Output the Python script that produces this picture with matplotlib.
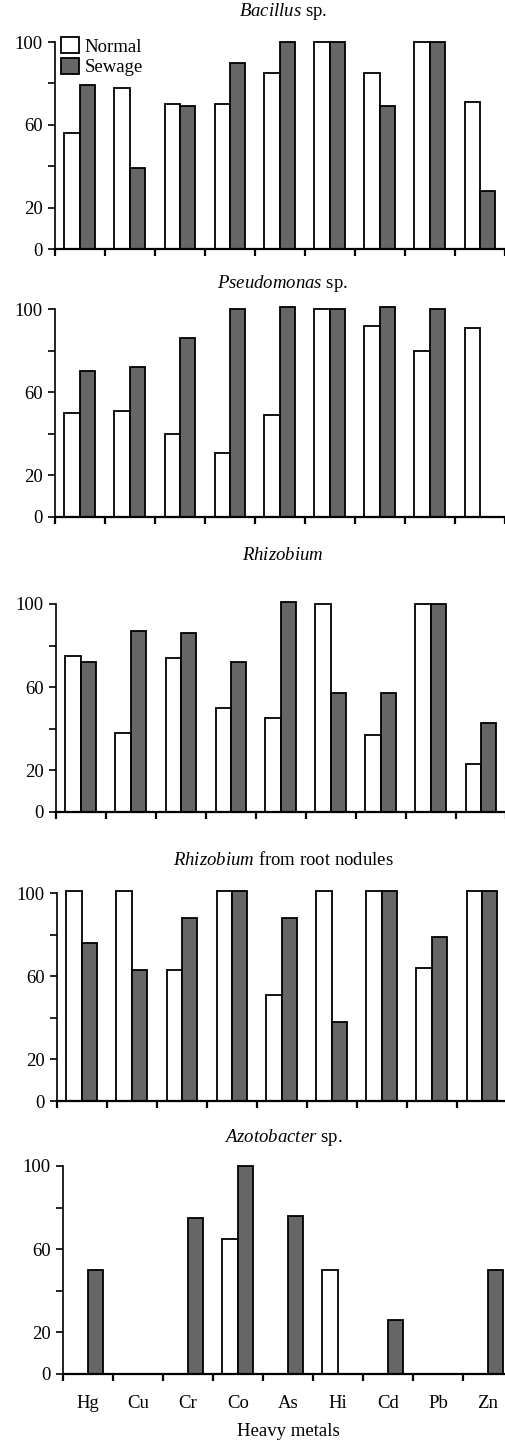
import numpy as np
import matplotlib.pyplot as plt
from matplotlib.patches import Patch

plt.rcParams['font.family'] = ['Liberation Serif', 'DejaVu Serif']
plt.rcParams['mathtext.fontset'] = 'custom'
plt.rcParams['mathtext.it'] = 'Liberation Serif:italic'
plt.rcParams['mathtext.rm'] = 'Liberation Serif'

# data (% tolerance)
metals = ['Hg', 'Cu', 'Cr', 'Co', 'As', 'Hi', 'Cd', 'Pb', 'Zn']

bacillus_normal = [56, 78, 70, 70, 85, 100, 85, 100, 71]
bacillus_sewage = [79, 39, 69, 90, 100, 100, 69, 100, 28]

pseudo_normal = [50, 51, 40, 31, 49, 100, 92, 80, 91]
pseudo_sewage = [70, 72, 86, 100, 101, 100, 101, 100, 0]

rhizo_normal = [75, 38, 74, 50, 45, 100, 37, 100, 23]
rhizo_sewage = [72, 87, 86, 72, 101, 57, 57, 100, 43]

nodule_normal = [101, 101, 63, 101, 51, 101, 101, 64, 101]
nodule_sewage = [76, 63, 88, 101, 88, 38, 101, 79, 101]

azoto_normal = [0, 0, 0, 65, 0, 50, 0, 0, 0]
azoto_sewage = [50, 0, 75, 100, 76, 0, 26, 0, 50]

W, H = 506, 1443
fig = plt.figure(figsize=(W / 100, H / 100), dpi=100)
fs = 13.5

# (title, normal, sewage, x0, y of 100, y of 0, title y) in pixels
panels = [
    (r'$\it{Bacillus}$ sp.', bacillus_normal, bacillus_sewage, 55, 42, 249, 12),
    (r'$\it{Pseudomonas}$ sp.', pseudo_normal, pseudo_sewage, 55, 309, 517, 284),
    (r'$\it{Rhizobium}$', rhizo_normal, rhizo_sewage, 56, 604, 812, 556),
    (r'$\it{Rhizobium}$ from root nodules', nodule_normal, nodule_sewage, 57, 893, 1101, 860),
    (r'$\it{Azotobacter}$ sp.', azoto_normal, azoto_sewage, 63, 1166, 1374, 1137),
]

dark = '#666666'
x = np.arange(len(metals)) + 0.5
bw = 0.31

axes = []
for (t, normal, sewage, x0, ytop, ybot, ty) in panels:
    ax = fig.add_axes([x0 / W, 1 - ybot / H, 450 / W, (ybot - ytop) / H])
    ax.bar(x - bw / 2, normal, bw, color='white', edgecolor='black', linewidth=1.3, clip_on=False)
    ax.bar(x + bw / 2, sewage, bw, color=dark, edgecolor='black', linewidth=1.3, clip_on=False)
    ax.set_xlim(0, 9)
    ax.set_ylim(0, 100)
    ax.spines['top'].set_visible(False)
    ax.spines['right'].set_visible(False)
    ax.spines['left'].set_linewidth(1.2)
    ax.spines['bottom'].set_linewidth(1.6)
    ax.set_yticks([0, 20, 40, 60, 80, 100])
    ax.set_yticklabels(['0', '20', '', '60', '', '100'])
    ax.set_xticks(np.arange(10))
    ax.set_xticklabels([])
    ax.tick_params(axis='y', length=5, width=1.2, labelsize=fs, pad=4)
    ax.tick_params(axis='x', length=5, width=1.6)
    fig.text(283 / W, 1 - ty / H, t, ha='center', va='center', fontsize=fs)
    axes.append(ax)

last = axes[-1]
last.set_xticks(x, minor=True)
last.set_xticklabels(metals, minor=True)
last.tick_params(axis='x', which='minor', length=0, labelsize=fs, pad=15)
fig.text(288 / W, 1 - 1431 / H, 'Heavy metals', ha='center', va='center', fontsize=fs)

handles = [Patch(facecolor='white', edgecolor='black', linewidth=1.3),
           Patch(facecolor=dark, edgecolor='black', linewidth=1.3)]
fig.legend(handles, ['Normal', 'Sewage'], loc='upper left',
           bbox_to_anchor=(61 / W, 1 - 37 / H), frameon=False, fontsize=fs,
           handlelength=0.95, handleheight=0.95, handletextpad=0.3,
           labelspacing=0.12, borderpad=0, borderaxespad=0)

fig.savefig('out.png', dpi=100)
